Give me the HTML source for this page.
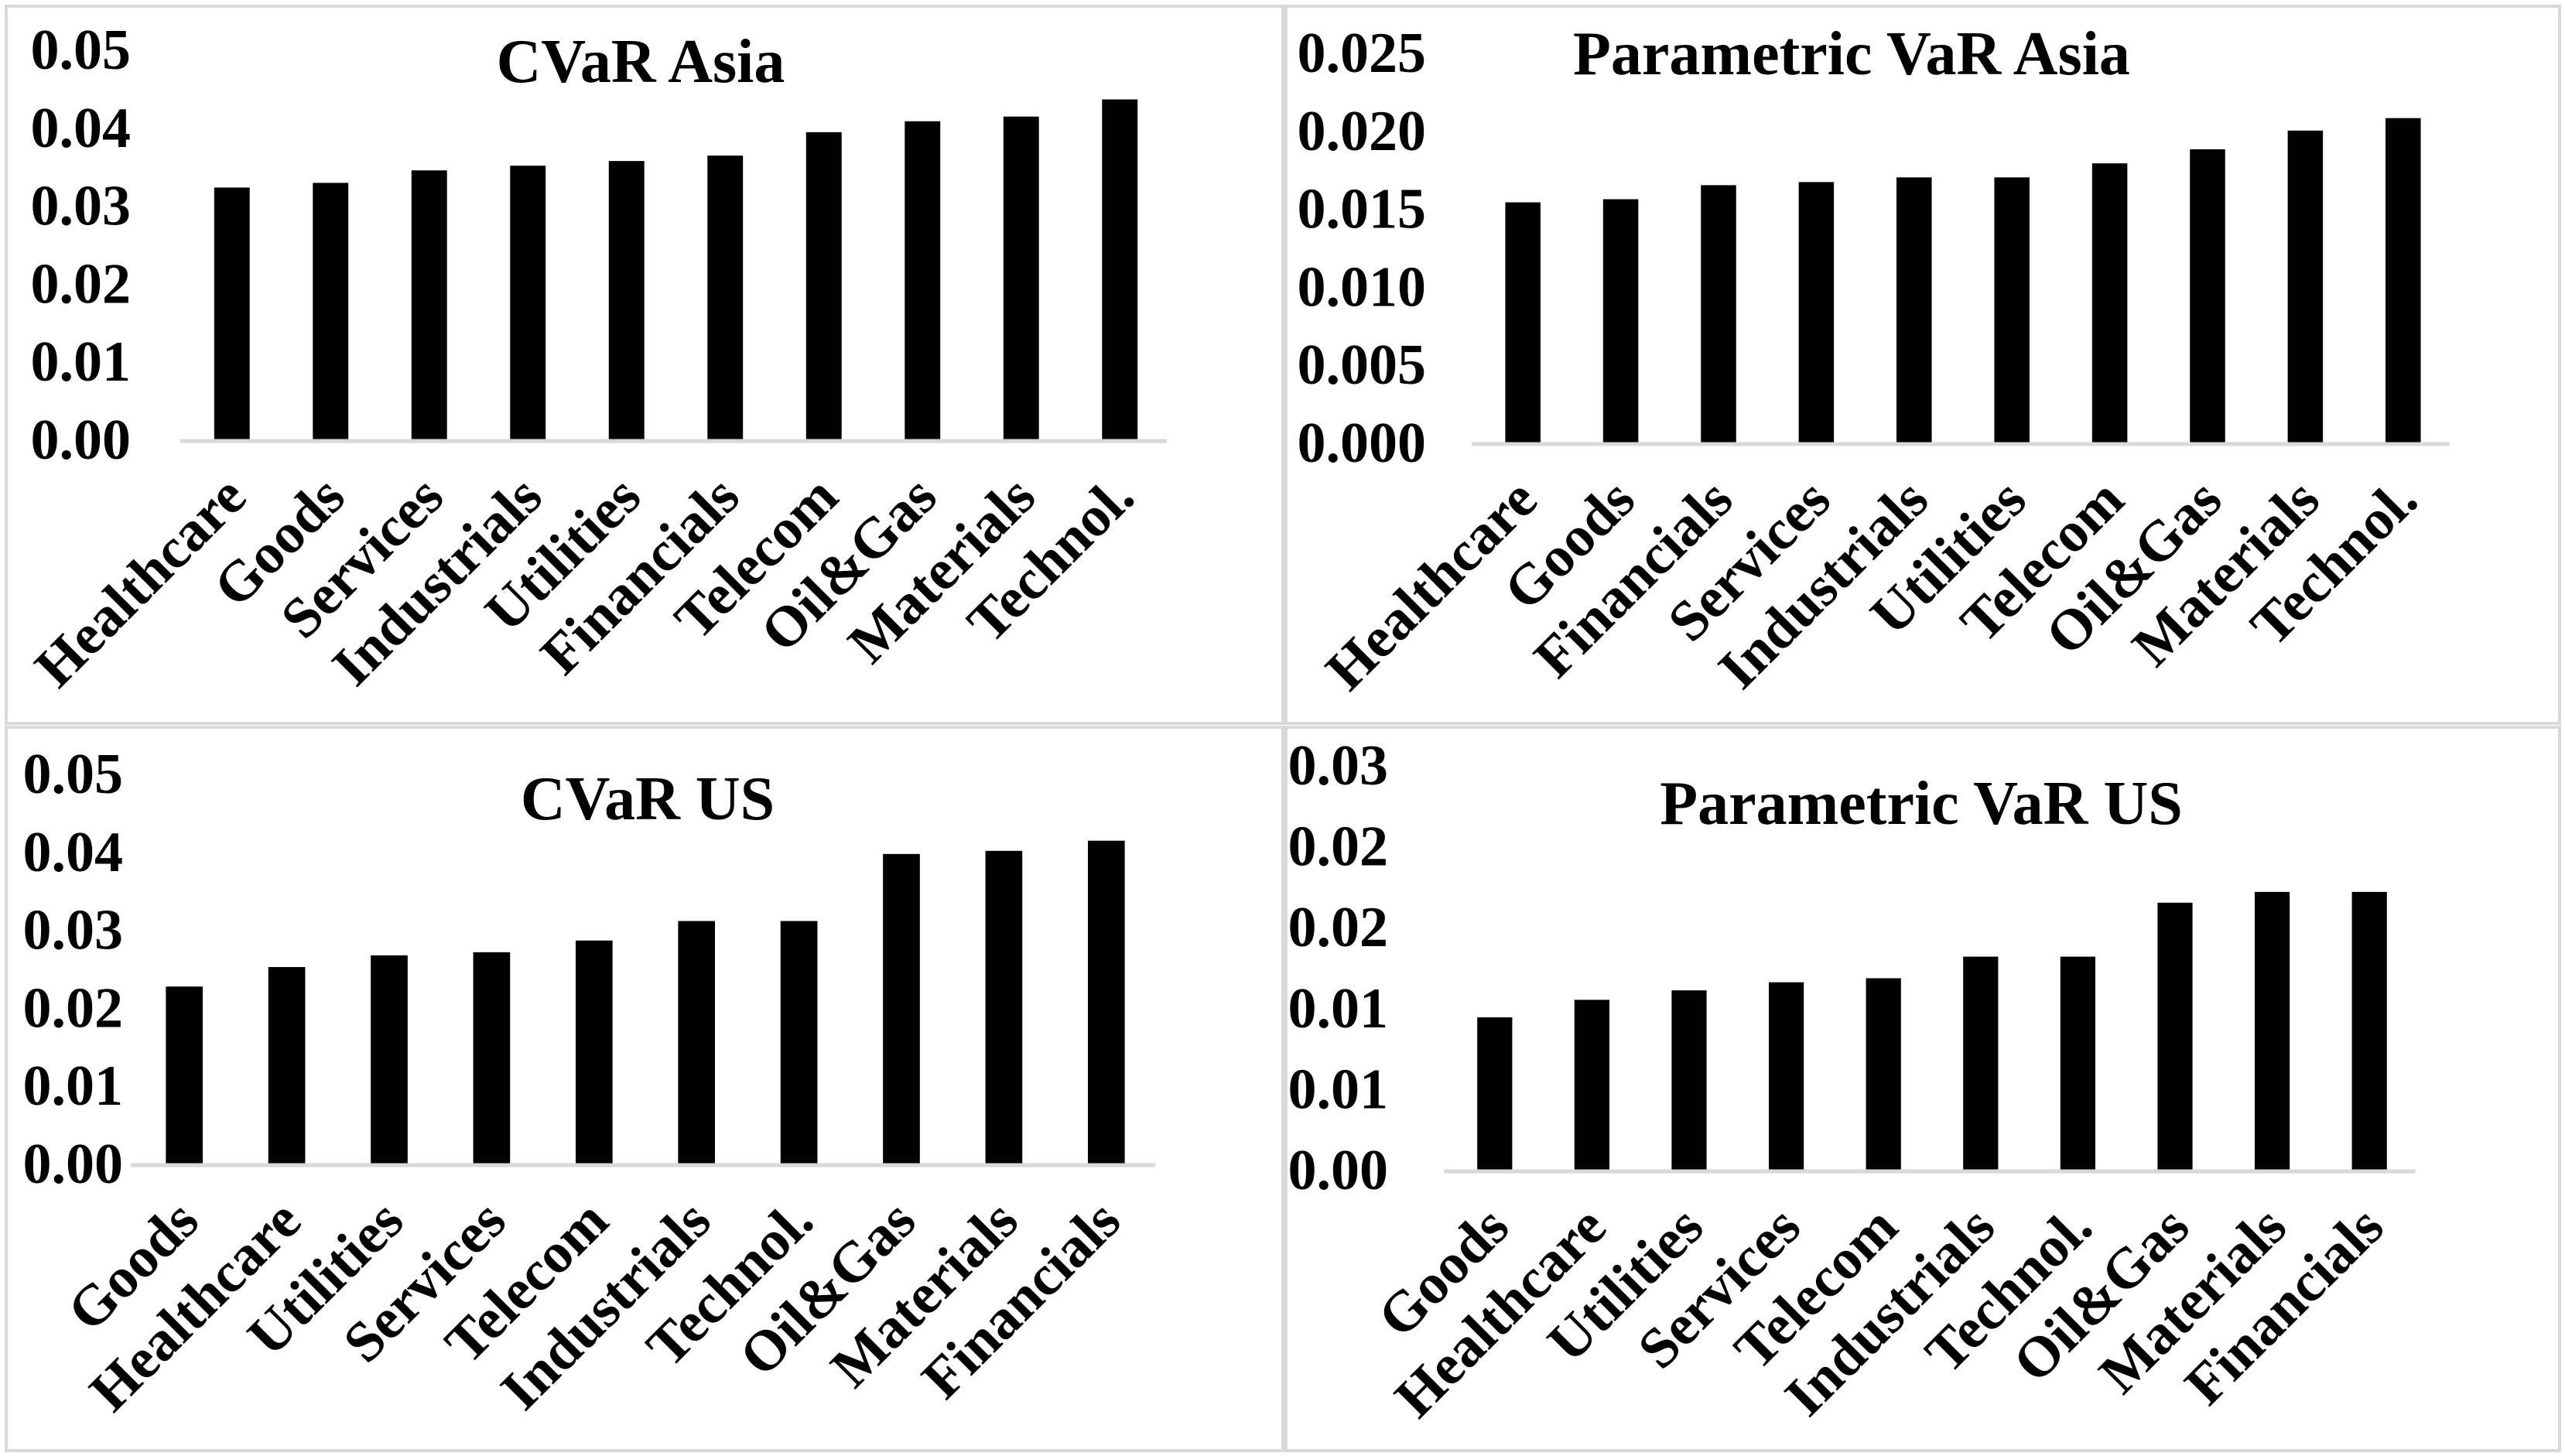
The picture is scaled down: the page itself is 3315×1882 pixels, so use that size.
<!DOCTYPE html>
<html><head><meta charset="utf-8"><style>
html,body{margin:0;padding:0;background:#fff;}
svg{display:block;font-family:"Liberation Serif",serif;font-weight:bold;}
</style></head><body>
<svg id="chart" width="3315" height="1882" viewBox="0 0 3315 1882" xmlns="http://www.w3.org/2000/svg"></svg>
<script>
const asiaCvarCats = ["Healthcare","Goods","Services","Industrials","Utilities","Financials","Telecom","Oil&Gas","Materials","Technol."];
const asiaCvarVals = [0.0323,0.0329,0.0345,0.0351,0.0357,0.0364,0.0394,0.0408,0.0414,0.0436];
const asiaCvarTicks = ["0.00","0.01","0.02","0.03","0.04","0.05"];

const asiaPvarCats = ["Healthcare","Goods","Financials","Services","Industrials","Utilities","Telecom","Oil&Gas","Materials","Technol."];
const asiaPvarVals = [0.0154,0.0156,0.0165,0.0167,0.0170,0.0170,0.0179,0.0188,0.0200,0.0208];
const asiaPvarTicks = ["0.000","0.005","0.010","0.015","0.020","0.025"];

const usCvarCats = ["Goods","Healthcare","Utilities","Services","Telecom","Industrials","Technol.","Oil&Gas","Materials","Financials"];
const usCvarVals = [0.0227,0.0252,0.0267,0.0271,0.0286,0.0311,0.0311,0.0397,0.0401,0.0414];
const usCvarTicks = ["0.00","0.01","0.02","0.03","0.04","0.05"];

const usPvarCats = ["Goods","Healthcare","Utilities","Services","Telecom","Industrials","Technol.","Oil&Gas","Materials","Financials"];
const usPvarVals = [0.0113,0.0126,0.0133,0.0139,0.0142,0.0158,0.0158,0.0198,0.0206,0.0206];
const usPvarTicks = ["0.00","0.01","0.01","0.02","0.02","0.03"];

const NS="http://www.w3.org/2000/svg";
const svg=document.getElementById('chart');
function mk(tag,attrs,parent){const e=document.createElementNS(NS,tag);for(const k in attrs)e.setAttribute(k,attrs[k]);(parent||svg).appendChild(e);return e;}

function panel(cfg){
  const g=mk('g',{});
  
  
  const fr=mk('rect',{x:cfg.frame[0],y:cfg.frame[1],width:cfg.frame[2],height:cfg.frame[3],fill:'none',stroke:'#d9d9d9','stroke-width':4},g);
  
  
  const t=mk('text',{x:cfg.titleX,y:cfg.titleY,'text-anchor':'middle','font-size':80},g);
  t.textContent=cfg.title;
  
  
  const n=cfg.ticks.length-1;
  const yScale=v=>cfg.y0-(v/cfg.max)*(cfg.y0-cfg.yTop);
  cfg.ticks.forEach((lab,i)=>{
    const tx=mk('text',{x:cfg.tickX,y:cfg.y0+(cfg.yTop-cfg.y0)*i/n+25,'text-anchor':'end','font-size':74},g);
    tx.textContent=lab;
    
    
  });
  const slot=(cfg.x1-cfg.x0)/cfg.cats.length;
  const bw=slot*0.36;
  cfg.vals.forEach((v,i)=>{
    const cx=cfg.x0+slot*(i+0.5)+3;
    const b=mk('rect',{x:cx-bw/2,y:yScale(v),width:bw,height:cfg.y0-yScale(v),fill:'#000'},g);
    
    
    const lx=cx+22, ly=cfg.y0+78;
    const l=mk('text',{x:0,y:0,'text-anchor':'end','font-size':74,transform:`translate(${lx},${ly}) rotate(-45)`},g);
    l.textContent=cfg.cats[i];
    
    
  });
  const ax=mk('line',{x1:cfg.x0,x2:cfg.x1,y1:cfg.y0+2,y2:cfg.y0+2,stroke:'#d9d9d9','stroke-width':5},g);
  
  
}

panel({name:'cvar-asia-chart',frame:[8,8,1650,927],title:'CVaR Asia',titleX:828,titleY:106,
  cats:asiaCvarCats,vals:asiaCvarVals,ticks:asiaCvarTicks,max:0.05,x0:233,x1:1508,y0:568,yTop:64,tickX:169});
panel({name:'parametric-var-asia-chart',frame:[1662,8,1646,927],title:'Parametric VaR Asia',titleX:2393,titleY:96,
  cats:asiaPvarCats,vals:asiaPvarVals,ticks:asiaPvarTicks,max:0.025,x0:1902,x1:3166,y0:572,yTop:68,tickX:1843});
panel({name:'cvar-us-chart',frame:[8,940,1650,935],title:'CVaR US',titleX:837,titleY:1059,
  cats:usCvarCats,vals:usCvarVals,ticks:usCvarTicks,max:0.05,x0:169,x1:1493,y0:1504,yTop:1000,tickX:159});
panel({name:'parametric-var-us-chart',frame:[1662,940,1646,935],title:'Parametric VaR US',titleX:2483,titleY:1065,
  cats:usPvarCats,vals:usPvarVals,ticks:usPvarTicks,max:0.03,x0:1866,x1:3122,y0:1512,yTop:989,tickX:1794});
</script>
</body></html>
